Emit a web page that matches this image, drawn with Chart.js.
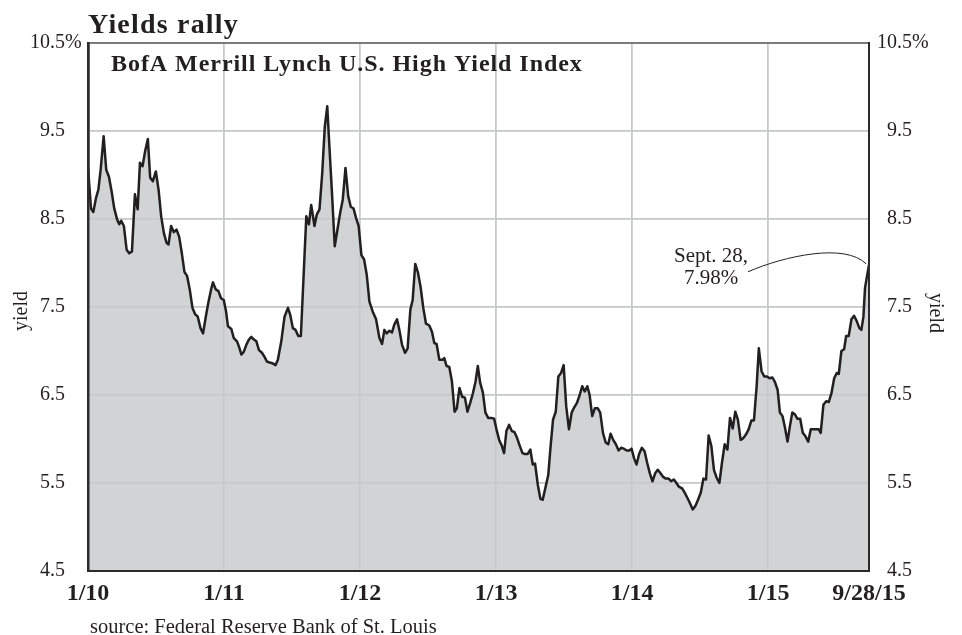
<!DOCTYPE html>
<html><head><meta charset="utf-8">
<script src="https://cdn.jsdelivr.net/npm/chart.js@4.4.1/dist/chart.umd.min.js"></script>
<style>html,body{margin:0;padding:0;background:#fff;}#wrap{width:962px;height:635px;position:relative;}</style>
</head><body><div id="wrap"><canvas id="c" width="962" height="635"></canvas></div>
<script>
// decimal years of each weekly observation
const dates = [
2010.000,2010.022,2010.039,2010.059,2010.076,2010.093,2010.115,2010.134,2010.154,2010.174,
2010.193,2010.215,2010.230,2010.244,2010.264,2010.284,2010.303,2010.323,2010.345,2010.365,
2010.382,2010.401,2010.420,2010.440,2010.457,2010.477,2010.499,2010.519,2010.538,2010.558,
2010.577,2010.592,2010.611,2010.631,2010.651,2010.670,2010.690,2010.709,2010.729,2010.748,
2010.768,2010.787,2010.807,2010.827,2010.846,2010.866,2010.886,2010.905,2010.919,2010.939,
2010.959,2010.978,2010.998,2011.015,2011.029,2011.054,2011.071,2011.095,2011.110,2011.128,
2011.145,2011.164,2011.183,2011.201,2011.220,2011.238,2011.257,2011.279,2011.299,2011.315,
2011.335,2011.357,2011.379,2011.396,2011.421,2011.445,2011.470,2011.487,2011.506,2011.526,
2011.546,2011.565,2011.585,2011.605,2011.624,2011.641,2011.665,2011.682,2011.702,2011.722,
2011.741,2011.759,2011.776,2011.795,2011.814,2011.834,2011.854,2011.873,2011.893,2011.913,
2011.932,2011.952,2011.971,2011.990,2012.010,2012.030,2012.049,2012.069,2012.093,2012.118,
2012.142,2012.162,2012.179,2012.196,2012.216,2012.235,2012.252,2012.272,2012.289,2012.309,
2012.331,2012.350,2012.370,2012.387,2012.406,2012.426,2012.445,2012.465,2012.485,2012.509,
2012.529,2012.546,2012.563,2012.583,2012.607,2012.619,2012.636,2012.656,2012.676,2012.695,
2012.712,2012.731,2012.751,2012.771,2012.790,2012.810,2012.830,2012.849,2012.866,2012.883,
2012.903,2012.922,2012.942,2012.966,2012.986,2013.003,2013.023,2013.043,2013.059,2013.076,
2013.096,2013.116,2013.135,2013.155,2013.175,2013.194,2013.213,2013.233,2013.252,2013.270,
2013.287,2013.307,2013.326,2013.343,2013.365,2013.384,2013.399,2013.419,2013.439,2013.458,
2013.478,2013.497,2013.516,2013.536,2013.556,2013.575,2013.595,2013.615,2013.634,2013.652,
2013.671,2013.688,2013.707,2013.727,2013.747,2013.766,2013.786,2013.806,2013.825,2013.842,
2013.861,2013.881,2013.901,2013.920,2013.940,2013.960,2013.979,2013.996,2014.015,2014.033,
2014.052,2014.072,2014.092,2014.111,2014.131,2014.150,2014.170,2014.189,2014.209,2014.228,
2014.248,2014.268,2014.287,2014.307,2014.326,2014.343,2014.368,2014.387,2014.407,2014.426,
2014.446,2014.466,2014.485,2014.505,2014.525,2014.544,2014.563,2014.583,2014.602,2014.622,
2014.642,2014.661,2014.681,2014.701,2014.720,2014.740,2014.759,2014.778,2014.798,2014.818,
2014.837,2014.857,2014.877,2014.896,2014.916,2014.932,2014.952,2014.972,2014.991,2015.011,
2015.031,2015.050,2015.070,2015.087,2015.106,2015.123,2015.143,2015.160,2015.178,2015.197,
2015.216,2015.236,2015.255,2015.275,2015.295,2015.314,2015.334,2015.354,2015.373,2015.387,
2015.407,2015.427,2015.446,2015.466,2015.486,2015.505,2015.520,2015.539,2015.559,2015.574,
2015.593,2015.613,2015.632,2015.652,2015.671,2015.686,2015.701,2015.713,2015.742
];
// BofA Merrill Lynch U.S. High Yield effective yield, %
const yields = [
9.08,8.62,8.58,8.74,8.83,9.06,9.44,9.06,8.98,8.81,
8.62,8.49,8.44,8.48,8.42,8.15,8.11,8.13,8.78,8.61,
9.14,9.10,9.27,9.41,8.97,8.93,9.04,8.83,8.53,8.34,
8.23,8.21,8.42,8.35,8.38,8.30,8.11,7.90,7.85,7.70,
7.49,7.42,7.39,7.26,7.20,7.39,7.56,7.70,7.78,7.70,
7.68,7.60,7.58,7.45,7.28,7.25,7.15,7.11,7.05,6.96,
6.99,7.07,7.13,7.16,7.13,7.11,7.01,6.98,6.93,6.88,
6.87,6.86,6.84,6.90,7.11,7.39,7.49,7.41,7.26,7.24,
7.17,7.17,7.85,8.53,8.44,8.66,8.42,8.55,8.61,9.02,
9.55,9.78,9.29,8.76,8.19,8.38,8.57,8.72,9.08,8.76,
8.64,8.62,8.51,8.42,8.09,8.04,7.87,7.56,7.45,7.36,
7.15,7.08,7.24,7.20,7.23,7.21,7.30,7.36,7.24,7.07,
6.98,7.03,7.47,7.58,7.99,7.89,7.73,7.49,7.31,7.29,
7.22,7.09,7.08,6.90,6.90,6.92,6.83,6.82,6.65,6.31,
6.35,6.58,6.48,6.47,6.31,6.41,6.52,6.65,6.83,6.64,
6.53,6.30,6.24,6.24,6.23,6.11,5.99,5.92,5.84,6.09,
6.16,6.09,6.08,6.01,5.92,5.84,5.83,5.83,5.88,5.71,
5.72,5.48,5.32,5.31,5.46,5.59,5.88,6.22,6.31,6.71,
6.75,6.84,6.37,6.11,6.30,6.36,6.41,6.50,6.60,6.54,
6.60,6.50,6.26,6.35,6.35,6.30,6.07,5.96,5.94,6.06,
5.99,5.94,5.87,5.90,5.89,5.87,5.87,5.89,5.78,5.71,
5.83,5.90,5.86,5.73,5.61,5.52,5.61,5.65,5.61,5.57,
5.55,5.55,5.52,5.54,5.50,5.46,5.44,5.39,5.33,5.27,
5.20,5.24,5.31,5.39,5.55,5.54,6.04,5.92,5.65,5.56,
5.50,5.73,5.94,5.88,6.24,6.12,6.31,6.22,5.99,6.01,
6.05,6.11,6.21,6.21,6.60,7.03,6.77,6.71,6.71,6.69,
6.70,6.65,6.56,6.30,6.26,6.14,5.97,6.14,6.30,6.28,
6.23,6.23,6.07,6.03,5.97,6.11,6.11,6.11,6.11,6.07,
6.39,6.43,6.42,6.52,6.69,6.75,6.74,7.00,7.02,7.17,
7.17,7.36,7.40,7.34,7.26,7.24,7.39,7.72,7.98
];
const yTicks = [4.5,5.5,6.5,7.5,8.5,9.5,10.5];
const xTickValues = [2010,2011,2012,2013,2014,2015,2015.742];
const xTickLabels = ['1/10','1/11','1/12','1/13','1/14','1/15','9/28/15'];
const titleText = 'Yields rally';
const subtitleText = 'BofA Merrill Lynch U.S. High Yield Index';
const sourceText = 'source: Federal Reserve Bank of St. Louis';
const axisTitleText = 'yield';
const noteLines = ['Sept. 28,', '7.98%'];

const SERIF = '"Liberation Serif", "Times New Roman", serif';
const INK = '#231f20';
const GRID = '#c6c7c8';
const FILL = '#d1d3d4';
const points = dates.map((d, i) => ({x: d, y: yields[i]}));

const overlay = {
  id: 'overlay',
  afterDatasetDraw(chart, args) {
    if (args.index !== 0) return;
    const ca = chart.chartArea;
    chart.scales.x.drawGrid(ca);
    chart.scales.y.drawGrid(ca);
  },
  afterDraw(chart) {
    const ctx = chart.ctx, ca = chart.chartArea;
    const xs = chart.scales.x, ys = chart.scales.y;
    chart.scales.y.drawBorder();
    chart.scales.y2.drawBorder();
    chart.scales.x.drawBorder();
    ctx.save();
    ctx.strokeStyle = '#2b2b2b';
    ctx.lineWidth = 1.2;
    ctx.beginPath();
    ctx.moveTo(ca.left - 1, ca.top);
    ctx.lineTo(ca.right + 1, ca.top);
    ctx.stroke();

    ctx.fillStyle = INK;
    ctx.textBaseline = 'alphabetic';
    ctx.textAlign = 'left';
    ctx.font = 'bold 28px ' + SERIF;
    ctx.letterSpacing = '1.2px';
    ctx.fillText(titleText, 88, 33);
    ctx.font = 'bold 24px ' + SERIF;
    ctx.letterSpacing = '0.95px';
    ctx.fillText(subtitleText, 111, 71);
    ctx.letterSpacing = '0px';
    ctx.font = '20.5px ' + SERIF;
    ctx.fillText(sourceText, 90, 633);

    // % signs on the top tick labels
    const yTop = ys.getPixelForValue(yTicks[yTicks.length - 1]);
    ctx.font = '20px ' + SERIF;
    ctx.textBaseline = 'middle';
    ctx.fillText('%', 65, yTop);
    ctx.fillText('%', 912, yTop);

    // axis titles
    const midY = (ca.top + ca.bottom) / 2;
    ctx.textAlign = 'center';
    ctx.save();
    ctx.translate(22, midY + 4);
    ctx.rotate(-Math.PI / 2);
    ctx.fillText(axisTitleText, 0, 0);
    ctx.restore();
    ctx.save();
    ctx.translate(935, midY + 6);
    ctx.rotate(Math.PI / 2);
    ctx.fillText(axisTitleText, 0, 0);
    ctx.restore();

    // annotation
    const px = xs.getPixelForValue(dates[dates.length - 1]);
    const py = ys.getPixelForValue(yields[yields.length - 1]);
    ctx.textBaseline = 'alphabetic';
    ctx.font = '21px ' + SERIF;
    ctx.fillText(noteLines[0], px - 158, py - 3);
    ctx.fillText(noteLines[1], px - 158, py + 19);
    ctx.strokeStyle = INK;
    ctx.lineWidth = 1;
    ctx.beginPath();
    ctx.moveTo(px - 121, py + 7);
    ctx.bezierCurveTo(px - 84, py - 9, px - 24, py - 22, px - 3, py - 1);
    ctx.stroke();
    ctx.restore();
  }
};

const yAxisBase = (pos) => ({
  type: 'linear', position: pos, min: 4.5, max: 10.5,
  afterBuildTicks: s => { s.ticks = yTicks.map(v => ({value: v})); },
  ticks: {
    font: {family: SERIF, size: 20}, color: INK,
    callback: v => Number(v).toFixed(1)
  },
  grid: {color: GRID, lineWidth: 1.5, drawTicks: false},
  border: {color: '#2b2b2b', width: 2}
});

const yLeft = yAxisBase('left');
yLeft.ticks.padding = 23;
yLeft.border.width = 2.5;
yLeft.afterFit = s => { s.width = 88; };

const yRight = yAxisBase('right');
yRight.ticks.padding = 6;
yRight.ticks.crossAlign = 'far';
yRight.grid = {display: false, drawTicks: false};
yRight.afterFit = s => { s.width = 43; };

new Chart(document.getElementById('c'), {
  type: 'line',
  data: {
    datasets: [
      {data: points, fill: 'start', backgroundColor: FILL, borderColor: 'rgba(0,0,0,0)', borderWidth: 1, pointRadius: 0, tension: 0, order: 2},
      {data: points, fill: false, borderColor: INK, borderWidth: 2.5, borderJoinStyle: 'round', pointRadius: 0, tension: 0, order: 1}
    ]
  },
  options: {
    responsive: false, animation: false, devicePixelRatio: 1,
    layout: {padding: {top: 43, right: 50, bottom: 0, left: 0}},
    plugins: {legend: {display: false}, tooltip: {enabled: false}, title: {display: false}},
    scales: {
      x: {
        type: 'linear', position: 'bottom', min: 2010, max: 2015.742,
        afterBuildTicks: s => { s.ticks = xTickValues.map(v => ({value: v})); },
        afterFit: s => { s.height = 64; },
        ticks: {
          autoSkip: false, maxRotation: 0, padding: 8,
          font: {family: SERIF, size: 24, weight: 'bold'}, color: INK,
          callback: (v, i) => xTickLabels[i]
        },
        grid: {color: GRID, lineWidth: 1.5, drawTicks: false},
        border: {color: '#2b2b2b', width: 2}
      },
      y: yLeft,
      y2: yRight
    }
  },
  plugins: [overlay]
});
</script></body></html>
